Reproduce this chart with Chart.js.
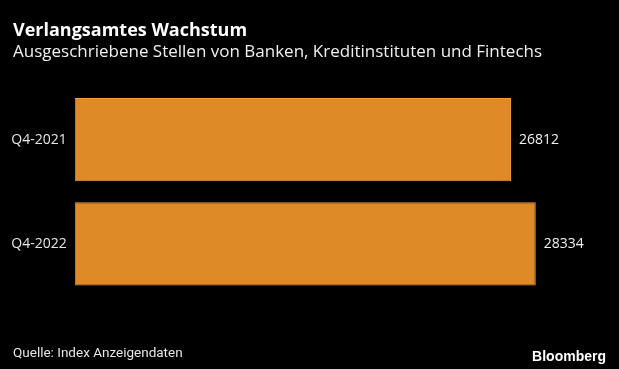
<!DOCTYPE html>
<html>
<head>
<meta charset="utf-8">
<script src="https://cdn.jsdelivr.net/npm/chart.js@4"></script>
<style>
  html, body { margin: 0; padding: 0; background: #000; }
  #wrap { position: relative; width: 619px; height: 369px; }
</style>
</head>
<body>
<div id="wrap"><canvas id="chart" width="619" height="369"></canvas></div>
<script>
// Data
const categories = ['Q4-2021', 'Q4-2022'];
const postings = [26812, 28334];

const titleText = 'Verlangsamtes Wachstum';
const subtitleText = 'Ausgeschriebene Stellen von Banken, Kreditinstituten und Fintechs';
const sourceText = 'Quelle: Index Anzeigendaten';

// draws titles, footer and value labels
const textPlugin = {
  id: 'texts',
  afterDraw(chart) {
    const ctx = chart.ctx;
    ctx.save();
    ctx.textBaseline = 'alphabetic';
    ctx.textAlign = 'left';
    ctx.fillStyle = '#ffffff';
    ctx.font = 'bold 18px "Open Sans"';
    ctx.fillText(titleText, 13, 36);
    ctx.fillStyle = '#f0f0f0';
    ctx.font = '17px "Open Sans"';
    ctx.fillText(subtitleText, 13, 57);
    ctx.font = '13.5px Roboto';
    ctx.fillStyle = '#e6e6e6';
    ctx.fillText(sourceText, 13, 357);
    ctx.font = 'bold 14px "Liberation Sans"';
    ctx.fillStyle = '#ffffff';
    ctx.textAlign = 'right';
    ctx.fillText('Bloomberg', 606, 361);

    // value labels
    const meta = chart.getDatasetMeta(0);
    ctx.textAlign = 'left';
    ctx.textBaseline = 'middle';
    ctx.font = '14px "Open Sans"';
    ctx.fillStyle = '#f0f0f0';
    meta.data.forEach((bar, i) => {
      ctx.fillText(String(postings[i]), bar.x + 8, bar.y);
    });
    ctx.restore();
  }
};

new Chart(document.getElementById('chart'), {
  type: 'bar',
  data: {
    labels: categories,
    datasets: [{
      data: postings,
      backgroundColor: '#dd8a27',
      borderColor: '#f29c36',
      borderWidth: 1,
      borderSkipped: false,
      barPercentage: 0.8,
      categoryPercentage: 1.0
    }]
  },
  options: {
    indexAxis: 'y',
    responsive: false,
    animation: false,
    layout: { padding: { top: 87.5, bottom: 73, left: 0, right: 0 } },
    plugins: {
      legend: { display: false },
      tooltip: { enabled: false }
    },
    scales: {
      x: {
        display: false,
        min: 0,
        max: 33450
      },
      y: {
        afterFit(scale) { scale.width = 74.7; },
        grid: { display: false, drawTicks: false },
        border: { display: false },
        ticks: {
          color: '#e6e6e6',
          font: { family: 'Open Sans', size: 14 },
          padding: 8
        }
      }
    }
  },
  plugins: [textPlugin]
});
</script>
</body>
</html>
